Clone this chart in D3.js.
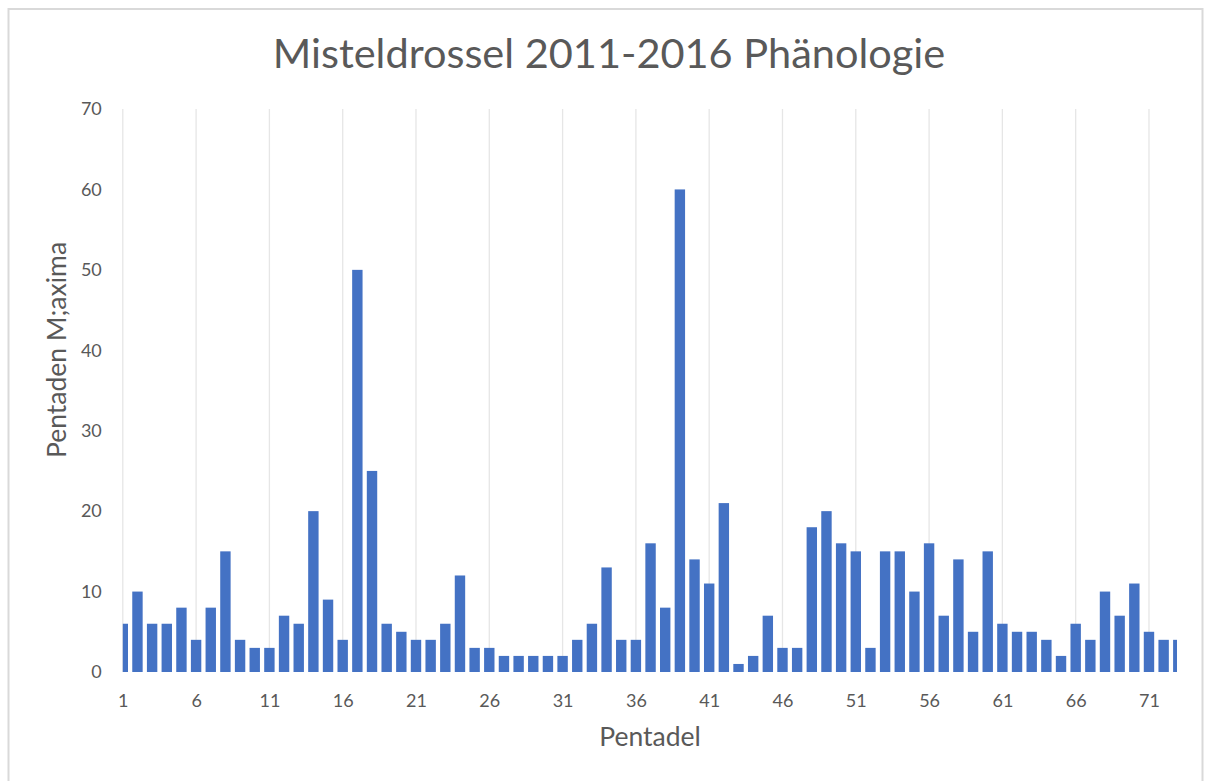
<!DOCTYPE html>
<meta charset="utf-8">
<script src="https://cdn.jsdelivr.net/npm/d3@7"></script>
<style>
body{margin:0;background:#fff;}
text{font-family:Lato,"Open Sans",sans-serif;}
</style>
<body>
<script>
// pentade numbers 1..73 and the maxima
var pentaden=[1,2,3,4,5,6,7,8,9,10,11,12,13,14,15,16,17,18,19,20,21,22,23,24,25,26,27,28,29,30,31,32,33,34,35,36,37,38,39,40,41,42,43,44,45,46,47,48,49,50,51,52,53,54,55,56,57,58,59,60,61,62,63,64,65,66,67,68,69,70,71,72,73];
var maxima=[6,10,6,6,8,4,8,15,4,3,3,7,6,20,9,4,50,25,6,5,4,4,6,12,3,3,2,2,2,2,2,4,6,13,4,4,16,8,60,14,11,21,1,2,7,3,3,18,20,16,15,3,15,15,10,16,7,14,5,15,6,5,5,4,2,6,4,10,7,11,5,4,4];
var xTicks=[1,6,11,16,21,26,31,36,41,46,51,56,61,66,71];
var yTicks=[0,10,20,30,40,50,60,70];

var W=1210,H=781;
var pL=122.8,pR=1177,pT=109,pB=672;

var svg=d3.select("body").append("svg")
    .attr("width",W).attr("height",H);

// chart frame
svg.append("rect")
    .attr("x",8.5).attr("y",9).attr("width",1194).attr("height",H+20)
    .attr("fill","#fff").attr("stroke","#d9d9d9").attr("stroke-width",2);

var x=d3.scaleLinear().domain([1,73]).range([pL,1178.3]);
var y=d3.scaleLinear().domain([0,70]).range([pB,pT]);
var bw=10.4;

svg.append("defs").append("clipPath").attr("id","plot")
    .append("rect").attr("x",pL).attr("y",pT-2).attr("width",pR-pL).attr("height",pB-pT+2);

// vertical gridlines
svg.append("g").selectAll("line").data(xTicks).enter().append("line")
    .attr("x1",function(d){return x(d)}).attr("x2",function(d){return x(d)})
    .attr("y1",pT).attr("y2",pB)
    .attr("stroke","#e6e6e6").attr("stroke-width",1.3);

// bars
svg.append("g").attr("clip-path","url(#plot)")
    .selectAll("rect").data(maxima).enter().append("rect")
    .attr("x",function(d,i){return x(pentaden[i])-bw/2})
    .attr("y",function(d){return y(d)})
    .attr("width",bw)
    .attr("height",function(d){return y(0)-y(d)})
    .attr("fill","#4472c4");

// axes
svg.append("g").attr("transform","translate("+(pL-13)+",0)")
    .call(d3.axisLeft(y).tickValues(yTicks).tickSize(0).tickPadding(8));
svg.append("g").attr("transform","translate(0,"+pB+")")
    .call(d3.axisBottom(x).tickValues(xTicks).tickSize(0).tickPadding(22));
svg.selectAll(".domain").remove();
svg.selectAll(".tick text").attr("fill","#595959")
    .attr("font-size",18).attr("font-family","Lato, 'Open Sans', sans-serif");

// titles
svg.append("text").attr("x",609).attr("y",68)
    .attr("text-anchor","middle").attr("fill","#595959")
    .style("font-size","41.5px").text("Misteldrossel 2011-2016 Phänologie");

svg.append("text").attr("x",650).attr("y",746)
    .attr("text-anchor","middle").attr("fill","#595959")
    .style("font-size","26.5px").text("Pentadel");

svg.append("text").attr("transform","translate(66,350) rotate(-90)")
    .attr("text-anchor","middle").attr("fill","#595959")
    .style("font-size","26.5px").text("Pentaden M;axima");
</script>
</body>
</html>
